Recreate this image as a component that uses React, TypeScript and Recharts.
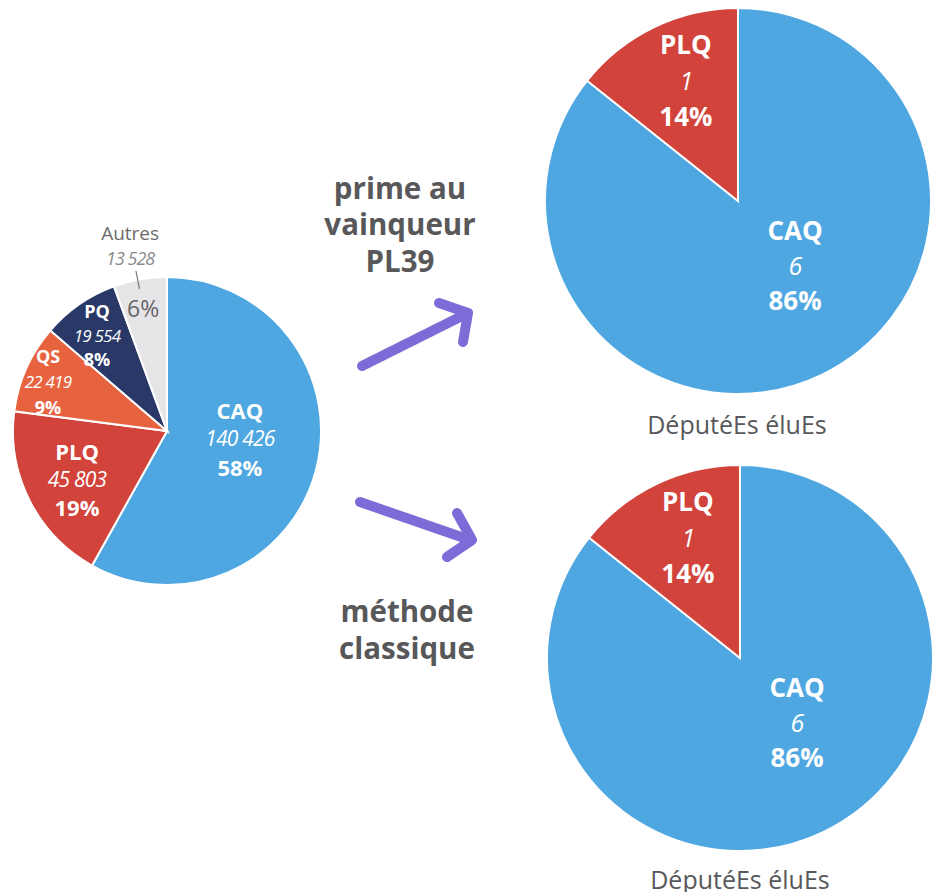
import React from "react";
import { PieChart, Pie, Cell } from "recharts";

// popular vote (left) and seats (right)
const voteParties = ["CAQ", "PLQ", "QS", "PQ", "Autres"];
const voteCounts = [140426, 45803, 22419, 19554, 13528];
const voteColors = ["#4ea7e0", "#d1433b", "#e7633f", "#2a3868", "#e5e5e8"];

const seatParties = ["CAQ", "PLQ"];
const seatsBonus = [6, 1];
const seatsClassic = [6, 1];
const seatColors = ["#4ea7e0", "#d1433b"];

const seatCaption = "DéputéEs éluEs";
const bonusTitle = ["prime au", "vainqueur", "PL39"];
const classicTitle = ["méthode", "classique"];

const FONT = "'Open Sans', sans-serif";
const GREY = "#58585a";
const RAD = Math.PI / 180;

const voteData = voteParties.map((name, i) => ({ name, value: voteCounts[i] }));
const bonusData = seatParties.map((name, i) => ({ name, value: seatsBonus[i] }));
const classicData = seatParties.map((name, i) => ({ name, value: seatsClassic[i] }));

// label placement: fraction of radius, angle nudge (deg), font size, line gap
const voteLayout = [
  { r: 0.476, shift: 9, size: 22, gap: 28.5 },
  { r: 0.662, shift: 1.3, size: 22, gap: 28 },
  { r: 0.836, shift: 1.6, size: 18, gap: 25.5 },
  { r: 0.771, shift: 1.4, size: 18, gap: 24 },
  { r: 0.814, shift: 0.9, size: 23, gap: 0 },
];
const seatLayout = [
  { r: 0.444, shift: 16, size: 26, gap: 35 },
  { r: 0.682, shift: -2.4, size: 26, gap: 36 },
];

const fmt = (n: number) => String(n).replace(/\B(?=(\d{3})+(?!\d))/g, " ");

const polar = (cx: number, cy: number, r: number, deg: number) => ({
  x: cx + r * Math.cos(deg * RAD),
  y: cy - r * Math.sin(deg * RAD),
});

function makeLabel(layout: any[], outside?: number) {
  return (props: any) => {
    const { cx, cy, midAngle, outerRadius, percent, index, name, value } = props;
    const L = layout[index];
    const ang = midAngle + L.shift;
    const p = polar(cx, cy, outerRadius * L.r, ang);
    const pct = `${Math.round(percent * 100)}%`;
    if (outside === index) {
      const a = polar(cx, cy, outerRadius * 0.94, ang);
      const b = polar(cx, cy, outerRadius * 1.06, ang);
      const t = polar(cx, cy, outerRadius * 1.225, ang + 0.3);
      return (
        <g fontFamily={FONT}>
          <line x1={a.x} y1={a.y} x2={b.x} y2={b.y} stroke="#777" strokeWidth={1.2} />
          <text x={t.x} y={t.y - 12.5} textAnchor="middle" dominantBaseline="central" fontSize={19} fill="#6b6b6d">
            {name}
          </text>
          <text x={t.x} y={t.y + 12.5} textAnchor="middle" dominantBaseline="central" fontSize={18} fontStyle="italic" fill="#8a8a8c" letterSpacing={-1}>
            {fmt(value)}
          </text>
          <text x={p.x} y={p.y} textAnchor="middle" dominantBaseline="central" fontSize={L.size} fill="#666668">
            {pct}
          </text>
        </g>
      );
    }
    return (
      <g fontFamily={FONT} fill="#ffffff">
        <text x={p.x} y={p.y - L.gap} textAnchor="middle" dominantBaseline="central" fontSize={L.size} fontWeight={700}>
          {name}
        </text>
        <text x={p.x} y={p.y} textAnchor="middle" dominantBaseline="central" fontSize={L.size - 1} fontStyle="italic" letterSpacing={-0.8}>
          {fmt(value)}
        </text>
        <text x={p.x} y={p.y + L.gap} textAnchor="middle" dominantBaseline="central" fontSize={L.size} fontWeight={700}>
          {pct}
        </text>
      </g>
    );
  };
}

function Arrow({ d, head }: { d: string; head: string }) {
  return (
    <g stroke="#7c6cd8" strokeWidth={10} strokeLinecap="round" strokeLinejoin="round" fill="none">
      <path d={d} />
      <path d={head} />
    </g>
  );
}

export default function App() {
  return (
    <div style={{ position: "absolute", left: 0, top: 0, width: 939, height: 892, background: "#fff", overflow: "hidden" }}>
      <PieChart width={939} height={892} margin={{ top: 0, right: 0, bottom: 0, left: 0 }}>
        <Pie
          data={voteData}
          dataKey="value"
          cx={167}
          cy={431}
          outerRadius={154}
          startAngle={90}
          endAngle={-270}
          stroke="#ffffff"
          strokeWidth={2}
          labelLine={false}
          label={makeLabel(voteLayout, 4)}
          isAnimationActive={false}
        >
          {voteData.map((d, i) => (
            <Cell key={d.name} fill={voteColors[i]} />
          ))}
        </Pie>
        <Pie
          data={bonusData}
          dataKey="value"
          cx={738}
          cy={201}
          outerRadius={193}
          startAngle={90}
          endAngle={-270}
          stroke="#ffffff"
          strokeWidth={2}
          labelLine={false}
          label={makeLabel(seatLayout)}
          isAnimationActive={false}
        >
          {bonusData.map((d, i) => (
            <Cell key={d.name} fill={seatColors[i]} />
          ))}
        </Pie>
        <Pie
          data={classicData}
          dataKey="value"
          cx={740}
          cy={658}
          outerRadius={193}
          startAngle={90}
          endAngle={-270}
          stroke="#ffffff"
          strokeWidth={2}
          labelLine={false}
          label={makeLabel(seatLayout)}
          isAnimationActive={false}
        >
          {classicData.map((d, i) => (
            <Cell key={d.name} fill={seatColors[i]} />
          ))}
        </Pie>
      </PieChart>

      <svg width={939} height={892} style={{ position: "absolute", left: 0, top: 0, pointerEvents: "none" }}>
        <g fontFamily={FONT} fill={GREY} textAnchor="middle">
          {bonusTitle.map((t, i) => (
            <text key={t} x={400} y={187 + i * 36.5} dominantBaseline="central" fontSize={29.5} fontWeight={700}>
              {t}
            </text>
          ))}
          {classicTitle.map((t, i) => (
            <text key={t} x={407} y={610 + i * 37} dominantBaseline="central" fontSize={29.5} fontWeight={700}>
              {t}
            </text>
          ))}
          <text x={737} y={424} dominantBaseline="central" fontSize={25}>
            {seatCaption}
          </text>
          <text x={740} y={879} dominantBaseline="central" fontSize={25}>
            {seatCaption}
          </text>
        </g>
        <Arrow d="M362 366 L466 314" head="M439 303 L468 313 L463 342" />
        <Arrow d="M360 502 L470 540" head="M457 513 L472 540 L447 557" />
      </svg>
    </div>
  );
}
